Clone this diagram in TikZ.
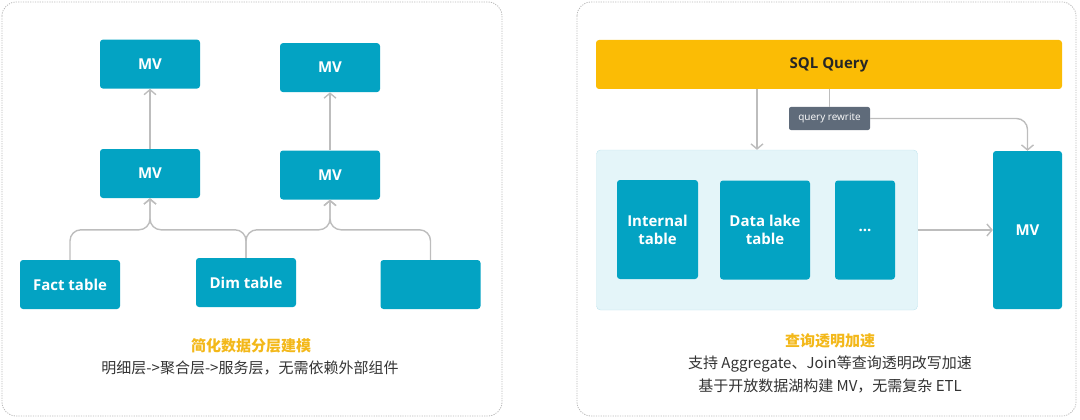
\documentclass[tikz,border=0pt]{standalone}
\usepackage{fontspec}
\setmainfont{Open Sans}
\newfontfamily\cjk{Noto Sans CJK SC}
\usetikzlibrary{arrows.meta,positioning}
\definecolor{tealbox}{HTML}{03A3C3}
\definecolor{sqlbar}{HTML}{FBBC05}
\definecolor{rwbox}{HTML}{5F6B7A}
\definecolor{lakebg}{HTML}{E4F5F9}
\definecolor{lakeline}{HTML}{BFE4EE}
\definecolor{linegray}{HTML}{BDBDBD}
\definecolor{titleor}{HTML}{F3B81A}
\definecolor{txtgray}{HTML}{333333}

\begin{document}
\begin{tikzpicture}[x=1pt,y=-1pt,
tbox/.style={fill=tealbox,rounded corners=3pt,text=white,font=\bfseries\fontsize{15}{18}\selectfont,align=center,minimum width=100pt,minimum height=49pt,inner sep=0pt},
conn/.style={draw=linegray,line width=1.4pt,rounded corners=11pt,-{Straight Barb[length=5pt,width=12pt]}},
panel/.style={draw=gray!55,dash pattern=on 1.2pt off 1.2pt,rounded corners=14pt,line width=0.8pt},
ttl/.style={font=\cjk\bfseries\fontsize{15}{18}\selectfont,text=titleor},
sub/.style={font=\cjk\fontsize{15}{23}\selectfont,text=txtgray,align=center}]
\useasboundingbox (0,0) rectangle (1080,420);
\draw[panel] (2,2) rectangle (502,416);
\draw[panel] (577,2) rectangle (1076,416);
% left: layered modelling
\node[tbox] (fact) at (70,284.5) {Fact table};
\node[tbox] (dim) at (246,282.5) {Dim table};
\node[tbox] (other) at (430.5,284.5) {};
\node[tbox] (mvA) at (150,173.5) {MV};
\node[tbox] (mvB) at (330,175) {MV};
\node[tbox,above=60pt of mvA] (mvAtop) {MV};
\node[tbox,above=58pt of mvB] (mvBtop) {MV};
\draw[conn] (fact.north) -- ++(0,-30) -| (mvA.south);
\draw[conn] (dim.north) -- ++(0,-28) -| (mvA.south);
\draw[conn] (dim.north) -- ++(0,-28) -| (mvB.south);
\draw[conn] (other.north) -- ++(0,-30) -| (mvB.south);
\draw[conn] (mvA.north) -- (mvAtop.south);
\draw[conn] (mvB.north) -- (mvBtop.south);
\node[ttl] (ttlL) at (251,346) {简化数据分层建模};
\node[sub] (subL) at (250,368) {明细层->聚合层->服务层，无需依赖外部组件};
% right: transparent acceleration
\node[fill=sqlbar,rounded corners=3pt,minimum width=466pt,minimum height=49pt,font=\bfseries\fontsize{15}{18}\selectfont,text=black!85] (sql) at (829,64.5) {SQL Query};
\node[fill=rwbox,rounded corners=2pt,text=white,font=\fontsize{10}{11}\selectfont,minimum width=81pt,minimum height=23pt,inner sep=0pt] (qr) at (829.5,118.5) {query rewrite};
\node[fill=lakebg,draw=lakeline,rounded corners=4pt,minimum width=321pt,minimum height=160pt] (lake) at (757,230) {};
\node[tbox,minimum width=81pt,minimum height=99pt] (internal) at (657.5,229.5) {Internal\\table};
\node[tbox,minimum width=90pt,minimum height=99pt] (datalake) at (765,230) {Data lake\\table};
\node[tbox,minimum width=60pt,minimum height=99pt] (more) at (865,230) {...};
\node[tbox,minimum width=69pt,minimum height=158pt] (mvR) at (1027.5,230) {MV};
\draw[conn] (sql.south -| lake.north) -- (lake.north);
\draw[draw=linegray,line width=1.4pt] (sql.south -| qr.north) -- (qr.north);
\draw[conn] (qr.east) -| (mvR.north);
\draw[conn] (lake.east) -- (mvR.west);
\node[ttl] (ttlR) at (830,341) {查询透明加速};
\node[sub] (subR) at (830,374.5) {支持 Aggregate、Join等查询透明改写加速\\基于开放数据湖构建 MV，无需复杂 ETL};
\end{tikzpicture}
\end{document}
